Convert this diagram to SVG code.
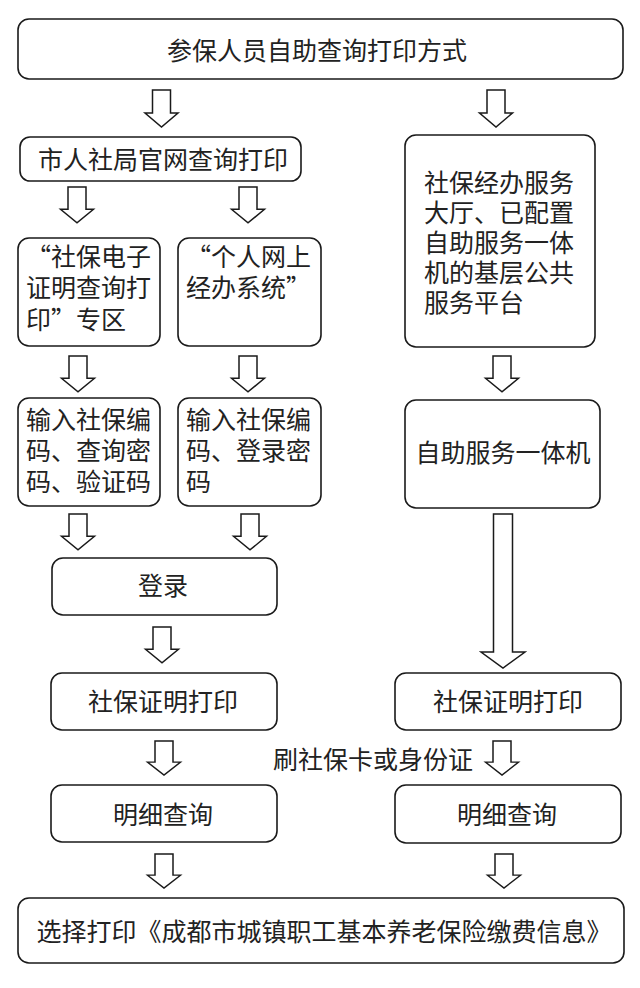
<svg xmlns="http://www.w3.org/2000/svg" xmlns:xlink="http://www.w3.org/1999/xlink" width="640" height="988" viewBox="0 0 640 988">
<style>
.box{fill:#fff;stroke:#1a1a1a;stroke-width:1.6}
.arr{fill:#fff;stroke:#1a1a1a;stroke-width:1.5;stroke-linejoin:miter}
text{font-family:"Microsoft YaHei","Noto Sans CJK SC","Noto Sans",sans-serif;font-size:25px;fill:#222}
.c{text-anchor:middle}
</style>
<defs>
<path id="arrow" class="arr" d="M-9,0 H9 V23 H16.5 L0,37 L-16.5,23 H-9 Z"/>
</defs>
<rect width="640" height="988" fill="#fff"/>
<g id="connectors">
<use xlink:href="#arrow" href="#arrow" transform="translate(161.5,90)"/>
<use xlink:href="#arrow" href="#arrow" transform="translate(496,90)"/>
<use xlink:href="#arrow" href="#arrow" transform="translate(77,187) scale(1,0.97)"/>
<use xlink:href="#arrow" href="#arrow" transform="translate(248,187) scale(1,0.97)"/>
<use xlink:href="#arrow" href="#arrow" transform="translate(78,356) scale(1,0.97)"/>
<use xlink:href="#arrow" href="#arrow" transform="translate(248,356) scale(1,0.97)"/>
<use xlink:href="#arrow" href="#arrow" transform="translate(502,356) scale(1,0.97)"/>
<use xlink:href="#arrow" href="#arrow" transform="translate(78,514) scale(1,0.97)"/>
<use xlink:href="#arrow" href="#arrow" transform="translate(250,514) scale(1,0.97)"/>
<use xlink:href="#arrow" href="#arrow" transform="translate(162,627) scale(1,0.97)"/>
<path class="arr" d="M493.5,514 H512.5 V652 H525 L503,668 L481,652 H493.5 Z"/>
<use xlink:href="#arrow" href="#arrow" transform="translate(164,741) scale(1,0.92)"/>
<use xlink:href="#arrow" href="#arrow" transform="translate(502,741) scale(1,0.92)"/>
<use xlink:href="#arrow" href="#arrow" transform="translate(164,854) scale(1,0.92)"/>
<use xlink:href="#arrow" href="#arrow" transform="translate(504,854) scale(1,0.92)"/>
<text id="label-swipe" x="273" y="769">刷社保卡或身份证</text>
</g>
<g id="n-title">
<rect class="box" x="18" y="19" width="605" height="60" rx="11"/>
<text class="c" x="317" y="59.5">参保人员自助查询打印方式</text>
</g>
<g id="n-website">
<rect class="box" x="20" y="137" width="281" height="44" rx="10"/>
<text class="c" x="163" y="168.5">市人社局官网查询打印</text>
</g>
<g id="n-hall">
<rect class="box" x="405" y="135" width="190" height="212" rx="11"/>
<text x="424" y="191.5">社保经办服务</text>
<text x="424" y="221.5">大厅、已配置</text>
<text x="424" y="251.5">自助服务一体</text>
<text x="424" y="281.5">机的基层公共</text>
<text x="424" y="312">服务平台</text>
</g>
<g id="n-ecert">
<rect class="box" x="18" y="238" width="142" height="108" rx="11"/>
<text x="26" y="266">“社保电子</text>
<text x="26" y="297">证明查询打</text>
<text x="26" y="329">印”专区</text>
</g>
<g id="n-personal">
<rect class="box" x="178" y="238" width="143" height="108" rx="11"/>
<text x="186" y="266">“个人网上</text>
<text x="186" y="297">经办系统”</text>
</g>
<g id="n-input1">
<rect class="box" x="18" y="398" width="142" height="108" rx="11"/>
<text x="26" y="429">输入社保编</text>
<text x="26" y="460">码、查询密</text>
<text x="26" y="491">码、验证码</text>
</g>
<g id="n-input2">
<rect class="box" x="178" y="398" width="143" height="108" rx="11"/>
<text x="186" y="429">输入社保编</text>
<text x="186" y="460">码、登录密</text>
<text x="186" y="491">码</text>
</g>
<g id="n-kiosk">
<rect class="box" x="405" y="400" width="195" height="108" rx="11"/>
<text class="c" x="503" y="462">自助服务一体机</text>
</g>
<g id="n-login">
<rect class="box" x="52" y="558" width="225" height="57" rx="11"/>
<text class="c" x="163" y="595">登录</text>
</g>
<g id="n-print1">
<rect class="box" x="51" y="673" width="226" height="57" rx="11"/>
<text class="c" x="163" y="711">社保证明打印</text>
</g>
<g id="n-print2">
<rect class="box" x="395" y="673" width="226" height="57" rx="11"/>
<text class="c" x="508" y="711">社保证明打印</text>
</g>
<g id="n-detail1">
<rect class="box" x="51" y="785" width="226" height="57" rx="11"/>
<text class="c" x="163" y="824">明细查询</text>
</g>
<g id="n-detail2">
<rect class="box" x="395" y="785" width="226" height="58" rx="11"/>
<text class="c" x="507" y="824">明细查询</text>
</g>
<g id="n-final">
<rect class="box" x="18" y="898" width="606" height="65" rx="11"/>
<text class="c" x="324" y="941">选择打印《成都市城镇职工基本养老保险缴费信息》</text>
</g>
</svg>
